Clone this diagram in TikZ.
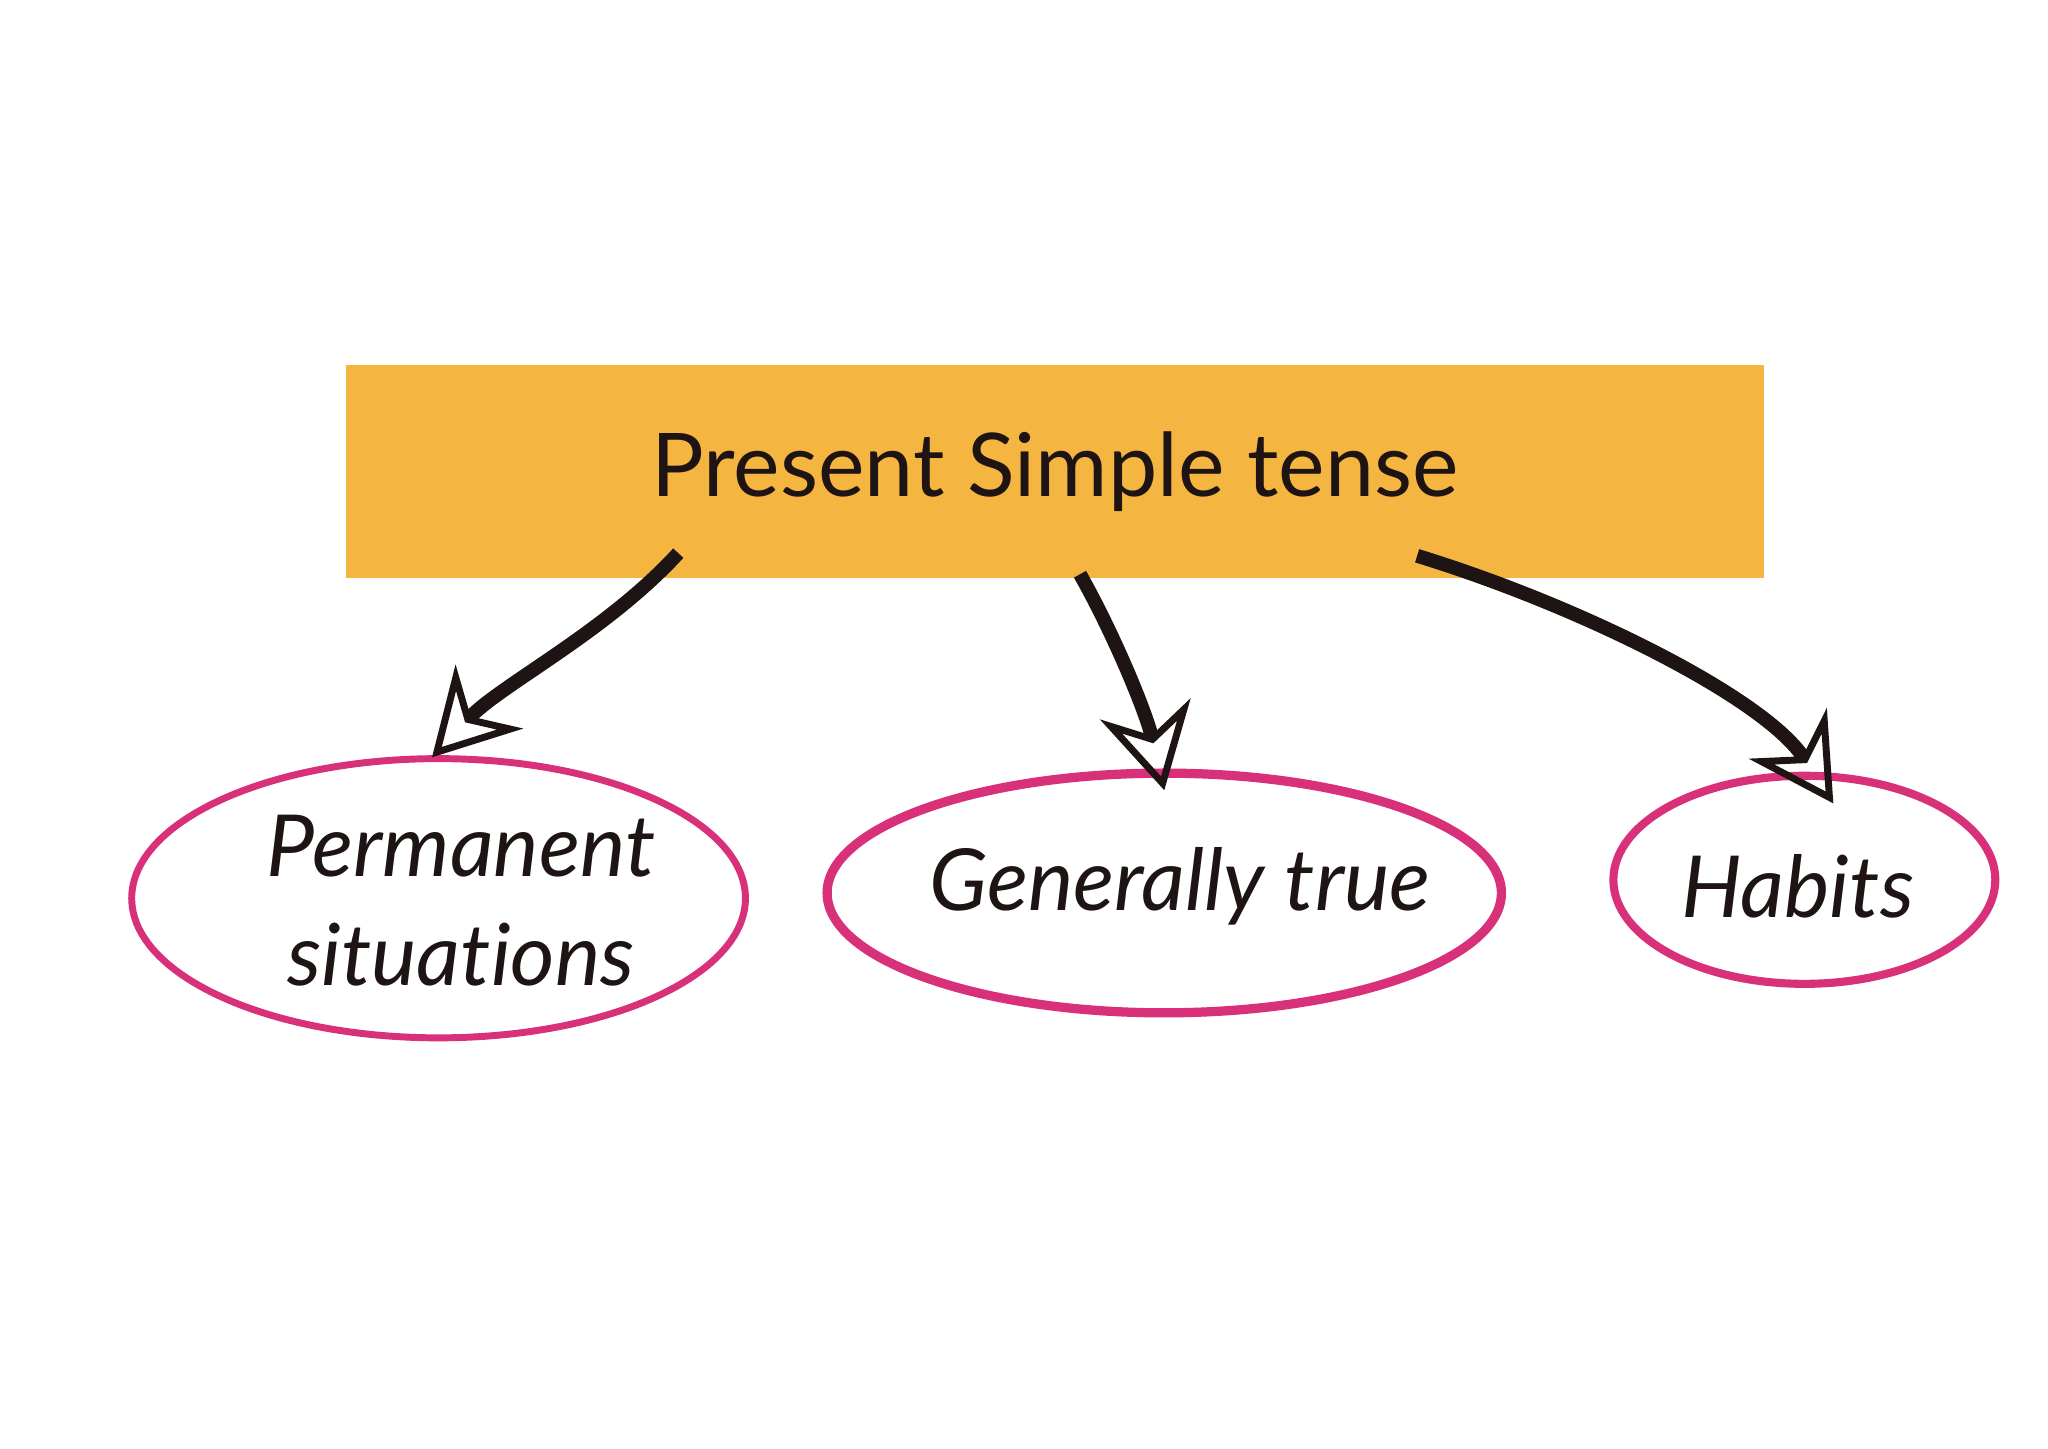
\documentclass[tikz,border=0pt]{standalone}
\usepackage{fontspec}
\setmainfont{Lato}[Ligatures={NoCommon,NoRare}]
\usetikzlibrary{arrows.meta}
\definecolor{boxor}{HTML}{F4B541}
\definecolor{pinkc}{HTML}{D9307A}
\definecolor{ink}{HTML}{1E1414}
\begin{document}
\begin{tikzpicture}[x=0.02cm,y=-0.02cm,
  lbl/.style={font=\fontsize{37}{47}\selectfont\itshape, text=ink, align=center},
  brush/.style={draw=ink, line width=6pt, -{Stealth[open,length=36pt,width=40pt,line width=3pt]}}]
\useasboundingbox[fill=white] (0,0) rectangle (1555,1100);
\node[fill=boxor, minimum width=1076*0.02cm, minimum height=162*0.02cm, inner sep=0pt,
  font=\fontsize{38}{48}\selectfont, text=ink] (top) at (801,358) {Present Simple tense};
\draw[pinkc, line width=3pt] (333,682) ellipse [x radius=233, y radius=106];
\draw[pinkc, line width=4pt] (884,678) ellipse [x radius=256, y radius=91];
\draw[pinkc, line width=3.5pt] (1370,668) ellipse [x radius=145, y radius=79];
\node[lbl] (p) at (350,684) {Permanent\\situations};
\node[lbl] (g) at (896,673) {Generally true};
\node[lbl] (h) at (1365,673) {Habits};
\coordinate (a1s) at (515,420);
\coordinate (a1e) at (328,575);
\coordinate (a2s) at (820,436);
\coordinate (a2e) at (884,600);
\coordinate (a3s) at (1076,422);
\coordinate (a3e) at (1392,610);
\draw[brush] (a1s) .. controls (460,480) and (380,520) .. (a1e);
\draw[brush] (a2s) .. controls (845,480) and (870,540) .. (a2e);
\draw[brush] (a3s) .. controls (1200,460) and (1340,530) .. (a3e);
\end{tikzpicture}
\end{document}
